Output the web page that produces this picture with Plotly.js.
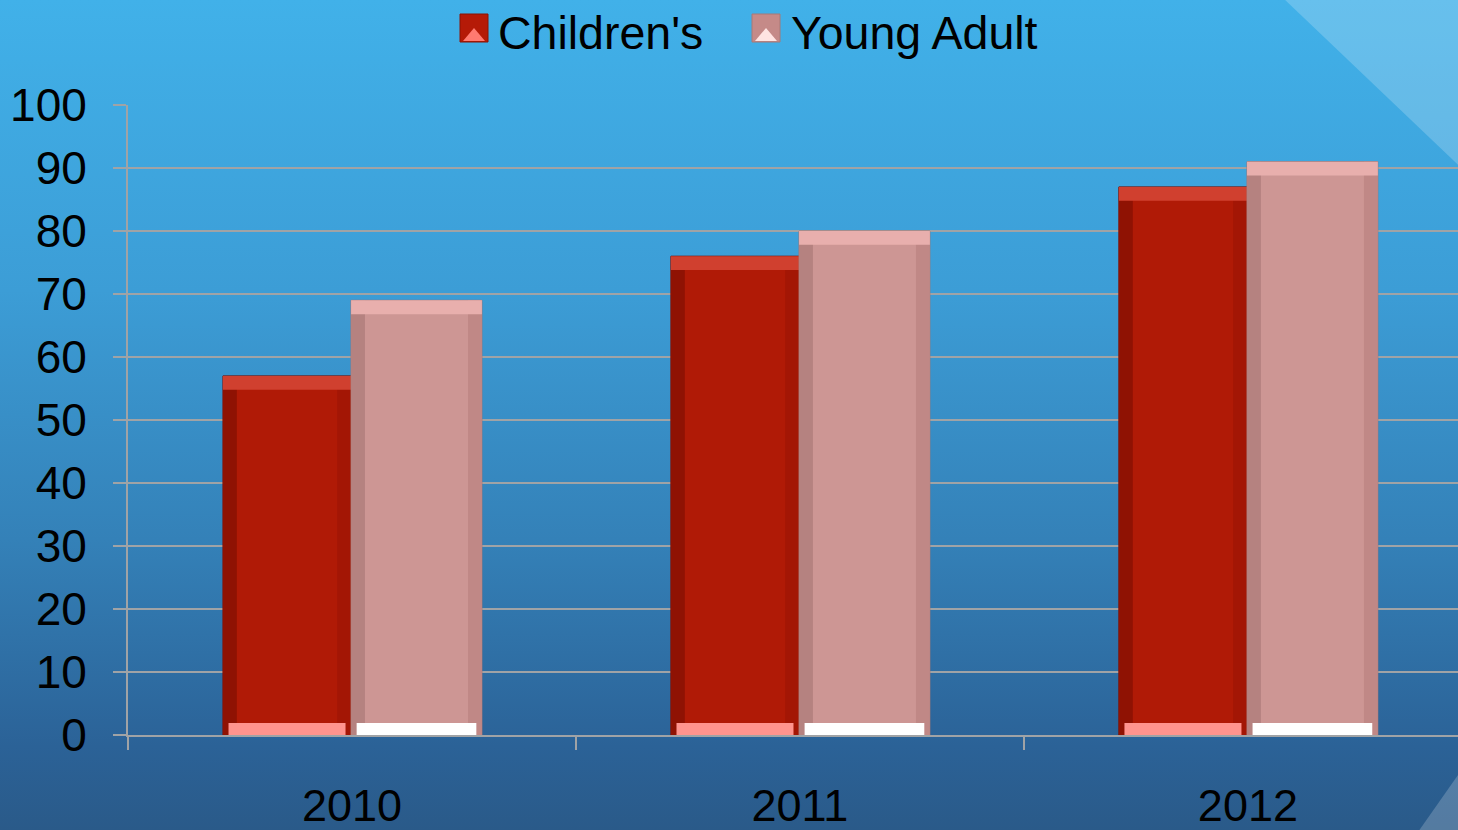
<!DOCTYPE html>
<html><head><meta charset="utf-8">
<script src="https://cdn.plot.ly/plotly-3.0.1.min.js"></script>
<style>
html,body{margin:0;padding:0;overflow:hidden;}
#chart{width:1458px;height:830px;background:linear-gradient(to bottom,#41b1e9 0%,#3c9dd6 35%,#3481b8 65%,#2b6297 90%,#2a5a89 100%);}
</style></head><body><div id="chart"></div>
<script>
const categories = ['2010', '2011', '2012'];
const childrens = [57, 76, 87];
const youngAdult = [69, 80, 91];
const seriesNames = ["Children's", 'Young Adult'];
const yTicks = [0, 10, 20, 30, 40, 50, 60, 70, 80, 90, 100];

const FONT = 'Liberation Sans, Arial, sans-serif';
const TOP = 2.2, BOTTOM = 1.9, SIDE = 0.031;

function bar(name, y, base, offset, width, color, lineColor, show) {
  return {
    type: 'bar', x: categories, y: y, base: base, name: name,
    offset: offset, width: width, showlegend: show, hoverinfo: 'skip',
    marker: {color: color, line: {color: lineColor || color, width: lineColor ? 1 : 0}}
  };
}

function series(name, vals, off, w, c) {
  const zeros = vals.map(() => 0);
  return [
    bar(name, vals, zeros, off, w, c.body, c.line, false),
    bar(name, vals, zeros, off, SIDE, c.left, null, false),
    bar(name, vals, zeros, off + w - SIDE, SIDE, c.right, null, false),
    bar(name, vals.map(() => TOP), vals.map(v => v - TOP), off, w, c.top, null, false),
    bar(name, vals.map(() => BOTTOM), zeros, off + SIDE * 0.4, w - SIDE * 0.8, c.bottom, null, false)
  ];
}

const redC = {body: '#b01a06', left: '#8f1203', right: '#a31605', top: '#d0402f', bottom: '#ff948e', line: '#7e0f02', icon: '#b51a07', iconTri: '#ff7a70', iconLine: '#8a1204'};
const pinkC = {body: '#cd9694', left: '#b58280', right: '#c08886', top: '#e8afad', bottom: '#ffffff', line: '#a67674', icon: '#c58a88', iconTri: '#ffe4e2', iconLine: '#a87876'};

const data = [].concat(
  series(seriesNames[0], childrens, -0.288, 0.286, redC),
  series(seriesNames[1], youngAdult, -0.002, 0.292, pinkC)
);

// legend drawn as paper-positioned decoration (pixel -> paper helpers)
const L = 128, PW = 1330, Y0 = 735, PH = 630;
const px = v => (v - L) / PW;
const py = v => (Y0 - v) / PH;
const legendItems = [
  {name: seriesNames[0], iconX: 460, textX: 496, c: redC},
  {name: seriesNames[1], iconX: 752, textX: 789, c: pinkC}
];
const iconTop = 14, iconSize = 28;
const shapes = [
  {type: 'path', xref: 'paper', yref: 'paper', layer: 'below',
   path: 'M 0.870 1.1667 L 1 1.1667 L 1 0.905 Z',
   fillcolor: 'rgba(255,255,255,0.2)', line: {width: 0}},
  {type: 'path', xref: 'paper', yref: 'paper', layer: 'below',
   path: 'M 0.971 -0.1508 L 1 -0.1508 L 1 -0.0635 Z',
   fillcolor: 'rgba(255,255,255,0.2)', line: {width: 0}}
];
const annotations = [];
legendItems.forEach(it => {
  const x0 = it.iconX, x1 = it.iconX + iconSize, y0 = iconTop, y1 = iconTop + iconSize;
  shapes.push({type: 'rect', xref: 'paper', yref: 'paper', x0: px(x0), x1: px(x1), y0: py(y1), y1: py(y0),
    fillcolor: it.c.icon, line: {color: it.c.iconLine, width: 1}});
  const m = 3;
  shapes.push({type: 'path', xref: 'paper', yref: 'paper',
    path: 'M ' + px(x0 + m) + ' ' + py(y1 - 1) + ' L ' + px(x1 - m) + ' ' + py(y1 - 1) +
          ' L ' + px((x0 + x1) / 2) + ' ' + py(y1 - 14) + ' Z',
    fillcolor: it.c.iconTri, line: {width: 0}});
  annotations.push({xref: 'paper', yref: 'paper', x: px(it.textX), y: py(33), xanchor: 'left', yanchor: 'middle',
    text: it.name, showarrow: false, font: {family: FONT, size: 46.5, color: '#000000'}});
});

const layout = {
  width: 1458, height: 830,
  paper_bgcolor: 'rgba(0,0,0,0)', plot_bgcolor: 'rgba(0,0,0,0)',
  margin: {l: 128, r: 0, t: 105, b: 95},
  barmode: 'overlay',
  font: {family: FONT, color: '#000000', size: 46},
  showlegend: false,
  xaxis: {
    type: 'category', range: [-0.5, 2.469], tickson: 'boundaries',
    ticks: 'outside', ticklen: 13, tickwidth: 2, tickcolor: '#a0a3a6',
    showline: true, linecolor: '#a0a3a6', linewidth: 2,
    showgrid: false, zeroline: false,
    tickfont: {family: FONT, size: 45, color: '#000000'},
    ticklabelstandoff: 30
  },
  yaxis: {
    range: [0, 100], tickvals: yTicks, ticktext: yTicks.map(String),
    ticks: 'outside', ticklen: 13, tickwidth: 2, tickcolor: '#a0a3a6',
    showline: true, linecolor: '#a0a3a6', linewidth: 2,
    showgrid: true, gridcolor: '#a0a3a6', gridwidth: 2, zeroline: false,
    tickfont: {family: FONT, size: 46, color: '#000000'},
    ticklabelstandoff: 17
  },
  shapes: shapes,
  annotations: annotations
};

Plotly.newPlot('chart', data, layout, {displayModeBar: false, staticPlot: true});
</script>
</body></html>
